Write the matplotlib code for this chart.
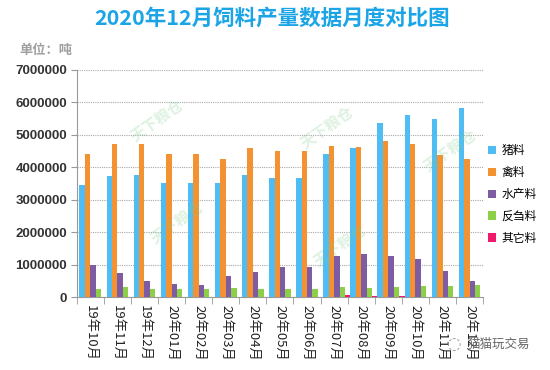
import matplotlib
matplotlib.use("Agg")
import matplotlib.pyplot as plt
import numpy as np

plt.rcParams['font.family'] = ['Noto Sans CJK SC', 'DejaVu Sans']

# data (吨)
months = ["19年10月", "19年11月", "19年12月", "20年01月", "20年02月", "20年03月",
          "20年04月", "20年05月", "20年06月", "20年07月", "20年08月", "20年09月",
          "20年10月", "20年11月", "20年12月"]
pig = [3450000, 3730000, 3760000, 3510000, 3510000, 3510000, 3760000, 3670000,
       3670000, 4400000, 4600000, 5360000, 5620000, 5490000, 5840000]
poultry = [4400000, 4730000, 4730000, 4400000, 4400000, 4250000, 4600000, 4490000,
           4490000, 4660000, 4630000, 4820000, 4730000, 4370000, 4270000]
aqua = [1000000, 740000, 510000, 390000, 360000, 640000, 760000, 920000,
        920000, 1270000, 1330000, 1270000, 1170000, 790000, 500000]
rumin = [250000, 300000, 250000, 250000, 250000, 290000, 250000, 250000,
         250000, 310000, 280000, 310000, 350000, 350000, 380000]
other = [0, 0, 0, 0, 0, 0, 0, 0, 0, 50000, 45000, 45000, 0, 0, 0]

series = [pig, poultry, aqua, rumin, other]
names = ["猪料", "禽料", "水产料", "反刍料", "其它料"]
colors = ["#4FBDF3", "#F39230", "#7D5CA4", "#8DCF46", "#F01A6C"]

fig = plt.figure(figsize=(5.5, 3.7), dpi=100)
ax = fig.add_axes([0.1395, 0.197, 0.739, 0.614])

x = np.arange(len(months))
w = 0.2
for i, (vals, nm, c) in enumerate(zip(series, names, colors)):
    ax.bar(x - 0.4 + w / 2 + i * w, vals, width=w, color=c, label=nm, zorder=3)

ax.set_xlim(-0.5, len(months) - 0.5)
ax.set_ylim(0, 7000000)
ax.set_yticks(np.arange(0, 7000001, 1000000))
ax.set_yticklabels([str(v) for v in range(0, 7000001, 1000000)])
for lab in ax.get_yticklabels():
    lab.set_fontfamily('Liberation Sans')
    lab.set_fontsize(9.5)
    lab.set_fontweight('bold')
    lab.set_color('#333333')
ax.yaxis.grid(True, linestyle=(0, (1, 1)), color='#aaaaaa', linewidth=0.8, zorder=0)

ax.set_xticks(x)
ax.set_xticklabels(months, rotation=270, fontsize=9.5, color='#222222')
ax.tick_params(axis='x', length=0, pad=6)
ax.set_xticks(np.arange(-0.5, len(months)), minor=True)
ax.tick_params(axis='x', which='minor', length=5, color='#999999')
ax.tick_params(axis='y', length=4, color='#999999', pad=3)

for s in ['top', 'right']:
    ax.spines[s].set_visible(False)
for s in ['left', 'bottom']:
    ax.spines[s].set_color('#999999')

ax.legend(loc='upper left', bbox_to_anchor=(0.985, 0.72), frameon=False,
          fontsize=8.5, handlelength=0.7, handleheight=0.7, handletextpad=0.5,
          labelspacing=0.75)

fig.text(0.495, 0.952, "2020年12月饲料产量数据月度对比图", ha='center', va='center',
         fontsize=15.5, fontweight='bold', color='#1BA5E6')
fig.text(0.036, 0.865, "单位：吨", ha='left', va='center', fontsize=9.5,
         fontweight='bold', color='#A0A0A0')

# faint watermarks
for wx, wy in [(157, 120), (327, 127), (450, 150), (177, 222), (340, 245)]:
    fig.text(wx / 550, 1 - wy / 370, "天下粮仓", ha='center', va='center',
             fontsize=11, fontweight='bold', color='#7FCB8A', alpha=0.25,
             rotation=35)

# watermark bottom right
fig.text(0.825, 0.07, "◌", ha='center', va='center', fontsize=12, color='#999999',
         family='DejaVu Sans')
fig.text(0.85, 0.07, "猫猫玩交易", ha='left', va='center', fontsize=9, color='#666666')

fig.savefig("out.png", dpi=100)
